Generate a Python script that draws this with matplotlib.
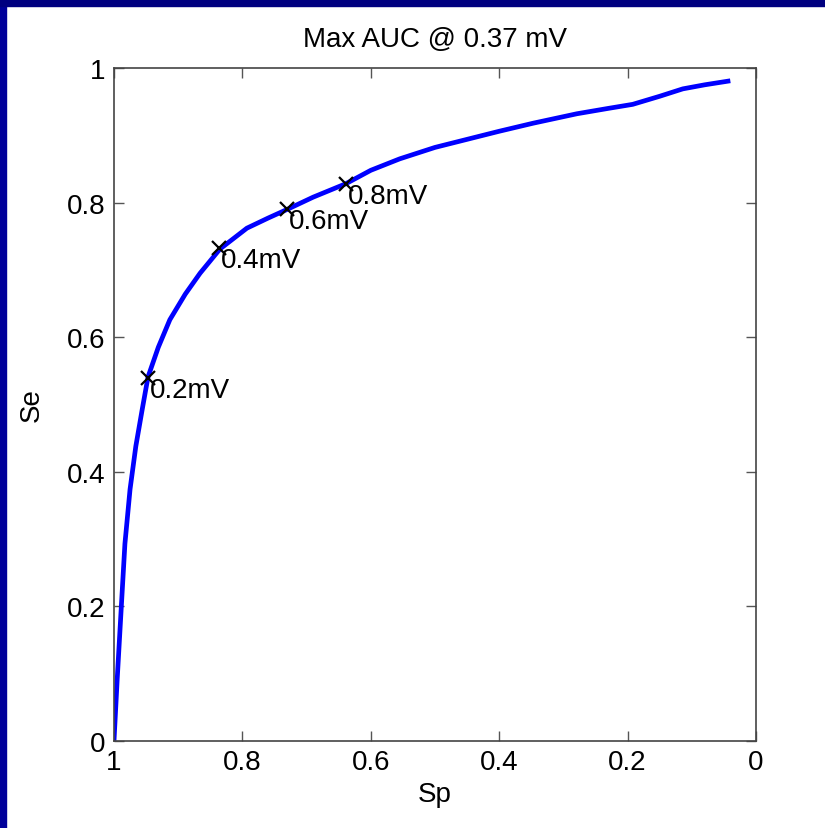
import matplotlib
matplotlib.use("Agg")
import matplotlib.pyplot as plt
from matplotlib.patches import Rectangle
from matplotlib import font_manager

names = {f.name for f in font_manager.fontManager.ttflist}
fam = "Liberation Sans Narrow" if "Liberation Sans Narrow" in names else "Liberation Sans"
plt.rcParams['font.family'] = [fam, 'DejaVu Sans']

# ROC curve data (Sp, Se)
sp = [1.000, 0.995, 0.989, 0.983, 0.975, 0.966, 0.956, 0.947, 0.931, 0.913, 0.889,
      0.866, 0.835, 0.793, 0.760, 0.730, 0.690, 0.639, 0.600, 0.555, 0.500, 0.450,
      0.400, 0.347, 0.279, 0.230, 0.192, 0.150, 0.114, 0.080, 0.040]
se = [0.000, 0.092, 0.193, 0.293, 0.374, 0.438, 0.493, 0.541, 0.585, 0.626, 0.664,
      0.695, 0.731, 0.762, 0.777, 0.790, 0.808, 0.828, 0.848, 0.865, 0.882, 0.894,
      0.906, 0.918, 0.932, 0.940, 0.946, 0.958, 0.969, 0.975, 0.981]

# Threshold markers
mk_sp = [0.947, 0.836, 0.730, 0.639]
mk_se = [0.540, 0.733, 0.790, 0.828]
mk_lbl = ["0.2mV", "0.4mV", "0.6mV", "0.8mV"]

title = "Max AUC @ 0.37 mV"
xticks = [1, 0.8, 0.6, 0.4, 0.2, 0]
yticks = [0, 0.2, 0.4, 0.6, 0.8, 1]

fig = plt.figure(figsize=(8.25, 8.29), dpi=100)
fig.patch.set_facecolor('white')
navy = '#000080'
fig.add_artist(Rectangle((0, 0), 6/825, 1, transform=fig.transFigure, color='#00009a', zorder=0))
fig.add_artist(Rectangle((0, 1-7/829), 1, 7/829, transform=fig.transFigure, color=navy, zorder=0))

ax = fig.add_axes([114/825, 87/829, 642/825, 673/829])
ax.plot(sp, se, color='#0000ff', lw=3.4, solid_capstyle='butt', solid_joinstyle='round')
ax.plot(mk_sp, mk_se, 'x', color='black', ms=10, mew=1.6, ls='none')
for x, y, t in zip(mk_sp, mk_se, mk_lbl):
    ax.annotate(t, (x, y), xytext=(2, -12), textcoords='offset pixels',
                ha='left', va='center', fontsize=20)

ax.set_xlim(1, 0)
ax.set_ylim(0, 1)
ax.set_xticks(xticks)
ax.set_yticks(yticks)
ax.set_xticklabels(['1', '0.8', '0.6', '0.4', '0.2', '0'])
ax.set_yticklabels(['0', '0.2', '0.4', '0.6', '0.8', '1'])
ax.tick_params(direction='in', length=7, width=1, colors='#555555', labelcolor='black',
               labelsize=20, top=True, right=True, pad=6)
for s in ax.spines.values():
    s.set_color('#444444')
    s.set_linewidth(1.2)
ax.set_xlabel('Sp', fontsize=20, labelpad=4)
ax.set_ylabel('Se', fontsize=20, labelpad=16)
ax.set_title(title, fontsize=20, pad=16)

fig.savefig('out.png', dpi=100, facecolor='white')
